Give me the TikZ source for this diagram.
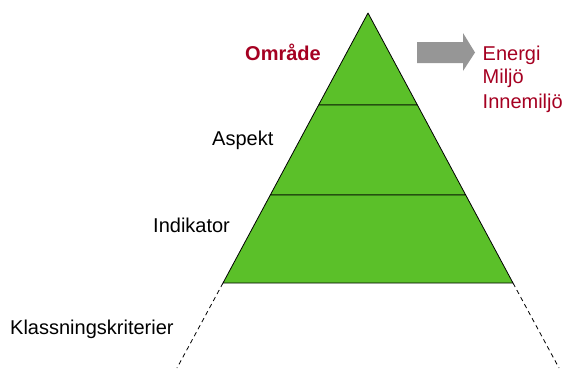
\documentclass[tikz,border=0pt]{standalone}
\usepackage{fontspec}
\setmainfont{Liberation Sans}
\definecolor{pgreen}{RGB}{91,192,41}
\definecolor{tred}{RGB}{165,0,33}
\definecolor{agray}{RGB}{150,150,150}
\begin{document}
\begin{tikzpicture}[x=1pt,y=-1pt,
  lbl/.style={anchor=base west,inner sep=0pt,font=\fontsize{20}{24}\selectfont},
  redlbl/.style={lbl,text=tred},
  band/.style={fill=pgreen,draw=black,line width=0.8pt,line join=round},
  ext/.style={draw=black,dash pattern=on 4.5pt off 3.5pt,line width=0.8pt}]
\useasboundingbox (0,0) rectangle (567,370);
\coordinate (apex) at (368,13);
\coordinate (l1) at (318.6,105);
\coordinate (r1) at (417.4,105);
\coordinate (l2) at (270.3,195);
\coordinate (r2) at (465.7,195);
\coordinate (l3) at (223,283);
\coordinate (r3) at (513,283);
\coordinate (lend) at (177,368);
\coordinate (rend) at (559,368);
\draw[band] (apex) -- (r1) -- (l1) -- cycle;
\draw[band] (l1) -- (r1) -- (r2) -- (l2) -- cycle;
\draw[band] (l2) -- (r2) -- (r3) -- (l3) -- cycle;
\draw[ext] (l3) -- (lend);
\draw[ext] (r3) -- (rend);
\fill[agray] (417,42) -- (463,42) -- (463,33) -- (475,52.5) -- (463,71) -- (463,63) -- (417,63) -- cycle;
\node[redlbl,font=\fontsize{20}{24}\selectfont\bfseries] (omr) at (245,60) {Område};
\node[redlbl] (en) at (482.5,60) {Energi};
\node[redlbl] (mi) at (482.5,83.5) {Miljö};
\node[redlbl] (in) at (482.5,108) {Innemiljö};
\node[lbl] (asp) at (212,145) {Aspekt};
\node[lbl] (ind) at (153,232.5) {Indikator};
\node[lbl] (kla) at (10,334) {Klassningskriterier};
\end{tikzpicture}
\end{document}
